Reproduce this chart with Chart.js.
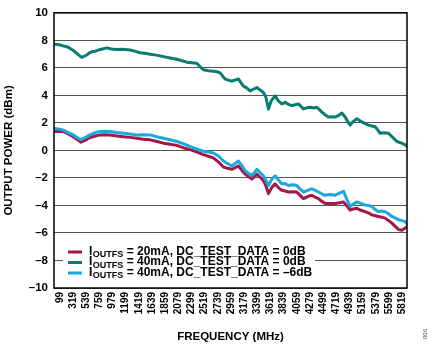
<!DOCTYPE html>
<html>
<head>
<meta charset="utf-8">
<script src="https://cdn.jsdelivr.net/npm/chart.js@4/dist/chart.umd.min.js"></script>
<style>
  html, body { margin: 0; padding: 0; background: #fff; }
  #wrap { width: 435px; height: 345px; }
</style>
</head>
<body>
<div id="wrap"><canvas id="c" width="435" height="345"></canvas></div>
<script>
// ---- data ----
const seriesNames = ["I_OUTFS = 20mA, DC_TEST_DATA = 0dB", "I_OUTFS = 40mA, DC_TEST_DATA = 0dB", "I_OUTFS = 40mA, DC_TEST_DATA = –6dB"];
const legendMain = ["I", "I", "I"];
const legendSub = ["OUTFS", "OUTFS", "OUTFS"];
const legendRest = [" = 20mA, DC_TEST_DATA = 0dB", " = 40mA, DC_TEST_DATA = 0dB", " = 40mA, DC_TEST_DATA = –6dB"];

const tealFreq = [17,90,156,210,268,310,351,410,463,505,547,590,630,690,741,810,881,960,1048,1150,1271,1350,1438,1520,1605,1710,1828,1940,2052,2140,2219,2300,2386,2440,2497,2580,2664,2720,2776,2820,2860,2920,2972,3030,3082,3120,3166,3220,3278,3330,3390,3445,3500,3540,3584,3630,3696,3750,3808,3863,3918,3975,4030,4085,4130,4169,4225,4281,4340,4393,4440,4477,4530,4587,4640,4699,4760,4811,4866,4910,4950,5000,5062,5100,5145,5200,5256,5310,5368,5410,5452,5520,5590,5660,5731,5800,5870,5900];
const tealPower = [7.72,7.68,7.6,7.55,7.42,7.3,7.17,6.95,6.77,6.85,6.94,7.1,7.17,7.22,7.3,7.38,7.46,7.38,7.34,7.36,7.3,7.22,7.1,7.06,7.0,6.93,6.82,6.72,6.63,6.52,6.42,6.38,6.34,6.1,5.87,5.8,5.75,5.72,5.64,5.4,5.2,5.1,5.04,5.12,5.2,4.95,4.68,4.55,4.33,4.45,4.57,4.4,4.21,3.9,3.02,3.6,3.97,3.6,3.38,3.5,3.35,3.26,3.32,3.38,3.2,3.02,3.1,3.14,3.08,3.14,2.95,2.79,2.6,2.43,2.45,2.43,2.55,2.72,2.43,2.1,1.84,2.1,2.31,2.2,2.08,1.95,1.84,1.78,1.72,1.5,1.25,1.28,1.25,0.95,0.65,0.55,0.41,0.3];

const lowFreq = [17,90,156,240,323,400,450,530,602,690,769,850,936,1050,1159,1270,1383,1490,1605,1720,1828,1940,2052,2160,2274,2390,2497,2580,2664,2750,2831,2900,2972,3030,3082,3140,3194,3250,3306,3350,3390,3445,3500,3545,3584,3640,3696,3750,3808,3863,3918,3990,4059,4110,4169,4240,4309,4365,4420,4475,4532,4615,4699,4770,4838,4900,4950,5000,5062,5130,5201,5260,5313,5370,5423,5480,5535,5590,5647,5700,5758,5815,5870,5900];
const crimsonPower = [1.37,1.4,1.37,1.2,1.0,0.75,0.6,0.75,0.94,1.05,1.13,1.15,1.13,1.05,1.0,0.95,0.89,0.82,0.77,0.65,0.53,0.45,0.37,0.2,0.06,-0.12,-0.3,-0.42,-0.54,-0.85,-1.2,-1.3,-1.37,-1.25,-1.13,-1.45,-1.72,-1.9,-2.08,-1.9,-1.72,-1.95,-2.19,-2.6,-3.14,-2.7,-2.43,-2.7,-2.9,-2.95,-3.02,-3.0,-3.02,-3.25,-3.5,-3.35,-3.26,-3.4,-3.5,-3.7,-3.85,-3.85,-3.85,-3.8,-3.74,-4.05,-4.33,-4.25,-4.21,-4.35,-4.45,-4.55,-4.68,-4.75,-4.8,-4.85,-4.92,-5.1,-5.28,-5.5,-5.75,-5.8,-5.64,-5.55];
const cyanPower = [1.6,1.55,1.48,1.3,1.13,0.9,0.78,0.95,1.13,1.3,1.37,1.4,1.37,1.3,1.25,1.2,1.13,1.15,1.13,1.0,0.89,0.78,0.65,0.5,0.3,0.1,-0.06,-0.12,-0.18,-0.4,-0.77,-0.95,-1.13,-0.95,-0.77,-1.1,-1.48,-1.65,-1.84,-1.6,-1.37,-1.6,-1.84,-2.2,-2.55,-2.1,-1.84,-2.15,-2.43,-2.4,-2.55,-2.5,-2.55,-2.8,-3.02,-2.9,-2.79,-2.9,-3.02,-3.15,-3.26,-3.2,-3.26,-3.1,-2.97,-3.6,-4.09,-3.9,-3.74,-3.85,-3.97,-4.0,-4.09,-4.3,-4.45,-4.4,-4.45,-4.6,-4.8,-4.9,-5.04,-5.1,-5.16,-5.35];

const xTickValues = [99,319,539,759,979,1199,1419,1639,1859,2079,2299,2519,2739,2959,3179,3399,3619,3839,4059,4279,4499,4719,4939,5159,5379,5599,5819];
const xTickLabels = ["99","319","539","759","979","1199","1419","1639","1859","2079","2299","2519","2739","2959","3179","3399","3619","3839","4059","4279","4499","4719","4939","5159","5379","5599","5819"];
const yTickValues = [-10,-8,-6,-4,-2,0,2,4,6,8,10];
const yTickLabels = ["–10","–8","–6","–4","–2","0","2","4","6","8","10"];

const xTitle = "FREQUENCY (MHz)";
const yTitle = "OUTPUT POWER (dBm)";
const figureId = "006";

const colors = ["#A3174B", "#0B7C72", "#1CA8DE"];

// ---- build ----
const pts = (fx, fy) => fx.map((f, i) => ({ x: f, y: fy[i] }));
const FONT = "'Liberation Sans', Arial, Helvetica, sans-serif";

const legendPlugin = {
  id: 'customLegend',
  afterDatasetsDraw(chart) {
    const ctx = chart.ctx;
    ctx.save();
    ctx.fillStyle = '#fff';
    ctx.fillRect(63, 239, 252, 47);
    const rows = [250, 260.5, 271];
    for (let i = 0; i < 3; i++) {
      const cy = rows[i];
      ctx.strokeStyle = colors[i];
      ctx.lineWidth = 3;
      ctx.beginPath();
      ctx.moveTo(68, cy + 2);
      ctx.lineTo(82, cy + 2);
      ctx.stroke();
      ctx.fillStyle = '#000';
      ctx.textBaseline = 'alphabetic';
      ctx.textAlign = 'left';
      let x = 89;
      ctx.font = "bold 12px " + FONT;
      ctx.fillText(legendMain[i], x, cy + 4.5);
      x += ctx.measureText(legendMain[i]).width + 0.5;
      ctx.font = "bold 9px " + FONT;
      ctx.fillText(legendSub[i], x, cy + 7);
      x += ctx.measureText(legendSub[i]).width;
      ctx.font = "bold 12px " + FONT;
      ctx.fillText(legendRest[i], x, cy + 4.5);
    }
    ctx.restore();
  },
  afterDraw(chart) {
    const ctx = chart.ctx;
    const a = chart.chartArea;
    ctx.save();
    ctx.strokeStyle = '#000';
    ctx.lineWidth = 1.5;
    ctx.strokeRect(a.left, a.top, a.right - a.left, a.bottom - a.top);
    ctx.translate(425, 334);
    ctx.rotate(-Math.PI / 2);
    ctx.fillStyle = '#444';
    ctx.font = "6px " + FONT;
    ctx.textAlign = 'center';
    ctx.textBaseline = 'middle';
    ctx.fillText(figureId, 0, 0);
    ctx.restore();
  }
};

new Chart(document.getElementById('c'), {
  type: 'line',
  data: {
    datasets: [
      { label: seriesNames[0], data: pts(lowFreq, crimsonPower), borderColor: colors[0], order: 1 },
      { label: seriesNames[1], data: pts(tealFreq, tealPower), borderColor: colors[1], order: 2 },
      { label: seriesNames[2], data: pts(lowFreq, cyanPower), borderColor: colors[2], order: 0 }
    ]
  },
  options: {
    responsive: false,
    animation: false,
    devicePixelRatio: 1,
    layout: { padding: { left: 0, right: 28, top: 7, bottom: 0 } },
    plugins: { legend: { display: false }, tooltip: { enabled: false } },
    elements: {
      point: { radius: 0 },
      line: { borderWidth: 3, tension: 0, borderJoinStyle: 'round', borderCapStyle: 'round', fill: false }
    },
    scales: {
      x: {
        type: 'linear', min: 0, max: 5900,
        afterBuildTicks: s => { s.ticks = xTickValues.map(v => ({ value: v })); },
        afterFit: s => { s.height = 57; },
        ticks: {
          autoSkip: false, maxRotation: 90, minRotation: 90, padding: 4,
          color: '#000', font: { family: FONT, size: 10, weight: 'bold' },
          callback: (v, i) => xTickLabels[i]
        },
        grid: { display: false, drawTicks: false },
        border: { display: false },
        title: { display: true, text: xTitle, color: '#000', font: { family: FONT, size: 11.5, weight: 'bold' }, padding: { top: 0, bottom: 1 } }
      },
      y: {
        min: -10, max: 10,
        afterBuildTicks: s => { s.ticks = yTickValues.map(v => ({ value: v })); },
        afterFit: s => { s.width = 54; },
        ticks: {
          padding: 6, color: '#000', font: { family: FONT, size: 11.5, weight: 'bold' },
          callback: (v, i) => yTickLabels[i]
        },
        grid: { color: '#555', lineWidth: 1, drawTicks: false },
        border: { display: false },
        title: { display: true, text: yTitle, color: '#000', font: { family: FONT, size: 11.5, weight: 'bold' }, padding: { top: 1.5, bottom: 0 } }
      }
    }
  },
  plugins: [legendPlugin]
});
</script>
</body>
</html>
